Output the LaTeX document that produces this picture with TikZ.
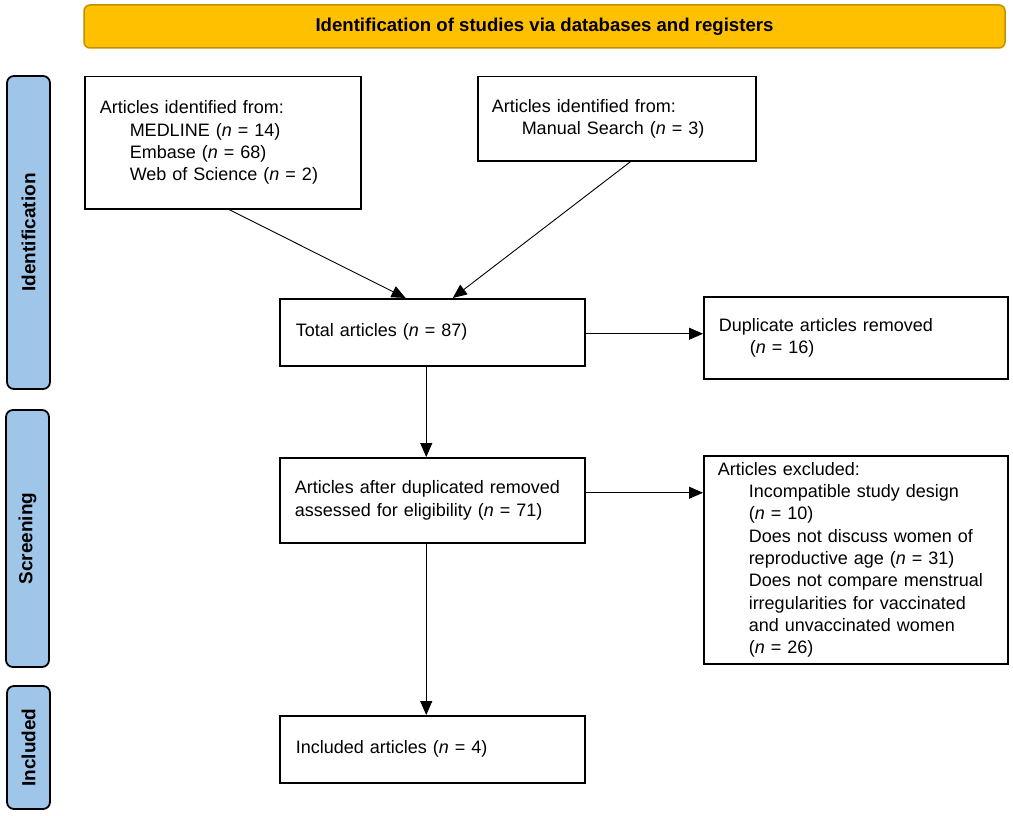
\documentclass[tikz,border=0pt]{standalone}
\usepackage{fontspec}
\setmainfont{Liberation Sans}
\usetikzlibrary{arrows.meta,calc}
\definecolor{bannerfill}{HTML}{FFC000}
\definecolor{bannerline}{HTML}{BF9000}
\definecolor{barfill}{HTML}{9FC5E8}
\begin{document}
\begin{tikzpicture}[x=1pt,y=-1pt,
  box/.style={draw=black,line width=1.5pt,rectangle,anchor=north west,
    inner xsep=15pt,inner ysep=0pt,align=left,
    font=\fontsize{18}{22.3}\selectfont},
  bar/.style={draw=black,fill=barfill,line width=1.8pt,rounded corners=7pt},
  barlabel/.style={rotate=90,font=\fontsize{19}{21}\selectfont\bfseries},
  arr/.style={line width=0.9pt,-{Triangle[length=14pt,width=12pt]}}]
\useasboundingbox (0,0) rectangle (1013,816);
% banner
\draw[fill=bannerfill,draw=bannerline,line width=1.5pt,rounded corners=6pt] (84,5) rectangle (1005,48);
\node[font=\fontsize{18.6}{21}\selectfont\bfseries] (banner) at (544.5,26.5) {Identification of studies via databases and registers};
% side bars
\draw[bar] (7,76) rectangle (50,389);
\node[barlabel] (lid) at (28.5,232.5) {Identification};
\draw[bar] (6,410) rectangle (49,667);
\node[barlabel] (lsc) at (27.5,538.5) {Screening};
\draw[bar] (7,686) rectangle (50,809);
\node[barlabel] (lin) at (28.5,747.5) {Included};
% boxes
\node[box,text width=246pt,minimum height=132pt] (box1) at (84,76)
 {Articles identified from:\\
  \hspace*{30pt}MEDLINE (\textit{n} = 14)\\
  \hspace*{30pt}Embase (\textit{n} = 68)\\
  \hspace*{30pt}Web of Science (\textit{n} = 2)};
\node[box,text width=250pt,inner xsep=14pt,minimum height=84pt] (box2) at (477,76)
 {Articles identified from:\\
  \hspace*{30pt}Manual Search (\textit{n} = 3)};
\node[box,text width=273pt,inner xsep=16pt,minimum height=67pt] (total) at (279,298)
 {Total articles (\textit{n} = 87)};
\node[box,text width=274pt,minimum height=82pt] (dup) at (703,296)
 {Duplicate articles removed\\
  \hspace*{31pt}(\textit{n} = 16)};
\node[box,text width=275pt,inner xsep=15pt,minimum height=85pt] (after) at (279,457)
 {Articles after duplicated removed\\
  assessed for eligibility (\textit{n} = 71)};
\node[box,text width=276pt,inner xsep=14pt,minimum height=208pt] (excl) at (703,455)
 {Articles excluded:\\
  \hspace*{31pt}Incompatible study design\\
  \hspace*{31pt}(\textit{n} = 10)\\
  \hspace*{31pt}Does not discuss women of\\
  \hspace*{31pt}reproductive age (\textit{n} = 31)\\
  \hspace*{31pt}Does not compare menstrual\\
  \hspace*{31pt}irregularities for vaccinated\\
  \hspace*{31pt}and unvaccinated women\\
  \hspace*{31pt}(\textit{n} = 26)};
\node[box,text width=273pt,inner xsep=16pt,minimum height=67pt] (incl) at (279,715)
 {Included articles (\textit{n} = 4)};
% connectors
\draw[arr] ($(box1.south west)!0.522!(box1.south east)$) -- ($(total.north west)!0.413!(total.north east)$);
\draw[arr] ($(box2.south west)!0.55!(box2.south east)$) -- ($(total.north west)!0.567!(total.north east)$);
\draw[arr] ([xshift=-6pt]total.south) -- ([xshift=-6pt]after.north);
\draw[arr] ([xshift=-6pt]after.south) -- ([xshift=-6pt]incl.north);
\draw[arr] ([yshift=-1.5pt]total.east) -- ([yshift=-1.5pt]total.east -| dup.west);
\draw[arr] ([yshift=7.5pt]after.east) -- ([yshift=7.5pt]after.east -| excl.west);
\end{tikzpicture}
\end{document}
